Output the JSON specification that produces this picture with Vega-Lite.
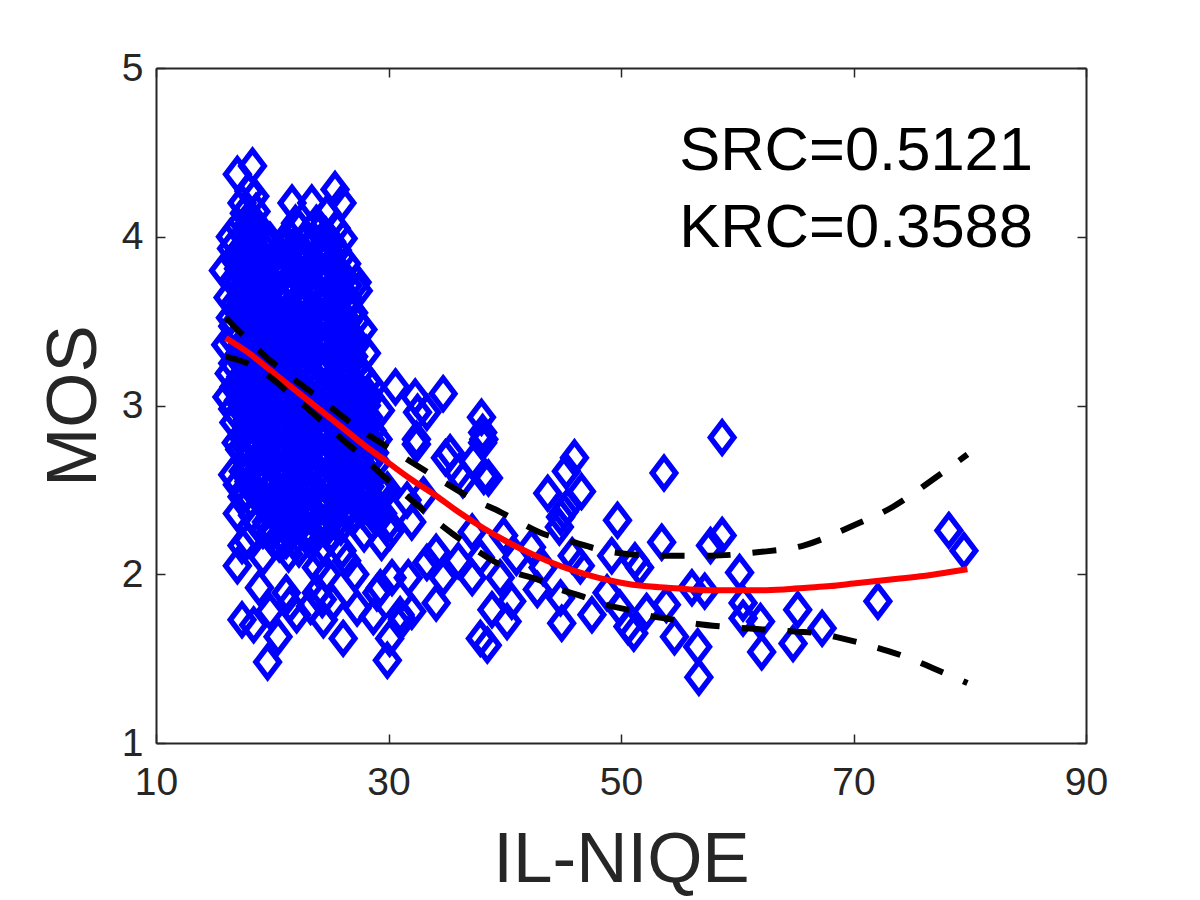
{"$schema":"https://vega.github.io/schema/vega-lite/v6.json",
"width":930,"height":675,
"autosize":"none",
"padding":{"left":156,"top":68,"right":114,"bottom":157},
"background":"white",
"config":{"view":{"stroke":null},"font":"Liberation Sans"},
"datasets":{
"fit":[{"x":16,"y":3.4},{"x":18,"y":3.31},{"x":20,"y":3.2},{"x":22,"y":3.09},{"x":24,"y":2.98},{"x":26,"y":2.87},{"x":28,"y":2.76},{"x":30,"y":2.66},{"x":32,"y":2.56},{"x":34,"y":2.47},{"x":36,"y":2.37},{"x":38,"y":2.28},{"x":40,"y":2.2},{"x":42,"y":2.13},{"x":44,"y":2.07},{"x":46,"y":2.02},{"x":48,"y":1.98},{"x":50,"y":1.95},{"x":52,"y":1.93},{"x":54,"y":1.92},{"x":56,"y":1.91},{"x":58,"y":1.905},{"x":60,"y":1.905},{"x":62,"y":1.905},{"x":64,"y":1.91},{"x":66,"y":1.92},{"x":68,"y":1.93},{"x":70,"y":1.945},{"x":72,"y":1.96},{"x":74,"y":1.975},{"x":76,"y":1.99},{"x":78,"y":2.01},{"x":79.8,"y":2.03}],
"upper":[{"x":16,"y":3.52},{"x":19.1,"y":3.31},{"x":23.9,"y":3.05},{"x":27.3,"y":2.87},{"x":30.7,"y":2.72},{"x":34.2,"y":2.57},{"x":37.7,"y":2.43},{"x":39.6,"y":2.37},{"x":41.5,"y":2.3},{"x":43.3,"y":2.24},{"x":45.4,"y":2.2},{"x":49.3,"y":2.13},{"x":53.5,"y":2.11},{"x":57.7,"y":2.11},{"x":61.7,"y":2.13},{"x":65.7,"y":2.17},{"x":69.7,"y":2.28},{"x":73.4,"y":2.4},{"x":76.8,"y":2.56},{"x":79.8,"y":2.71}],
"lower":[{"x":16,"y":3.29},{"x":18.2,"y":3.24},{"x":19.8,"y":3.17},{"x":21.5,"y":3.07},{"x":23,"y":2.985},{"x":24.7,"y":2.88},{"x":26.1,"y":2.795},{"x":27.8,"y":2.695},{"x":29.1,"y":2.61},{"x":30.8,"y":2.51},{"x":32.3,"y":2.42},{"x":34,"y":2.32},{"x":35.5,"y":2.24},{"x":37.3,"y":2.155},{"x":39,"y":2.08},{"x":40.9,"y":2.01},{"x":42.8,"y":1.97},{"x":44.8,"y":1.91},{"x":46.6,"y":1.87},{"x":48.6,"y":1.82},{"x":50.6,"y":1.79},{"x":52.7,"y":1.75},{"x":54.6,"y":1.73},{"x":56.6,"y":1.705},{"x":58.7,"y":1.69},{"x":60.8,"y":1.68},{"x":65,"y":1.66},{"x":67,"y":1.65},{"x":69,"y":1.62},{"x":71,"y":1.585},{"x":73,"y":1.545},{"x":74.9,"y":1.5},{"x":76.8,"y":1.445},{"x":79.8,"y":1.355}],
"labels":[{"x":55,"y":4.396,"label":"SRC=0.5121"},{"x":55,"y":3.94,"label":"KRC=0.3588"}],
"points":[
{"x":58.7,"y":2.81},{"x":53.7,"y":2.6},{"x":46,"y":2.69},{"x":45.3,"y":2.61},{"x":46.6,"y":2.49},{"x":43.7,"y":2.48},{"x":45.1,"y":2.37},{"x":44.8,"y":2.34},{"x":45.4,"y":2.4},{"x":44.7,"y":2.28},{"x":49.7,"y":2.32},{"x":58.7,"y":2.23},{"x":57.7,"y":2.17},{"x":53.5,"y":2.19},{"x":49.2,"y":2.11},{"x":51.2,"y":2.08},{"x":51.6,"y":2.04},{"x":45.8,"y":2.11},{"x":46.5,"y":2.05},{"x":60.2,"y":2.01},{"x":42.3,"y":2.16},{"x":39.9,"y":2.23},{"x":41,"y":2.1},{"x":43.3,"y":2.04},{"x":39.6,"y":1.98},{"x":42.8,"y":1.91},{"x":48.8,"y":1.89},{"x":44.8,"y":1.86},{"x":56.1,"y":1.92},{"x":57.2,"y":1.9},{"x":53.9,"y":1.82},{"x":52.2,"y":1.78},{"x":49.9,"y":1.8},{"x":40.6,"y":1.84},{"x":38.9,"y":1.79},{"x":47.5,"y":1.76},{"x":44.9,"y":1.71},{"x":40.2,"y":1.72},{"x":60.5,"y":1.83},{"x":60.5,"y":1.74},{"x":62,"y":1.72},{"x":50.6,"y":1.69},{"x":51.1,"y":1.65},{"x":54.6,"y":1.63},{"x":56.6,"y":1.57},{"x":62.1,"y":1.54},{"x":56.7,"y":1.39},{"x":38.5,"y":1.58},{"x":37.9,"y":1.62},{"x":65.2,"y":1.79},{"x":67.3,"y":1.68},{"x":64.8,"y":1.59},{"x":72.1,"y":1.84},{"x":78.2,"y":2.26},{"x":79.5,"y":2.14},
{"x":34.7,"y":3.07},{"x":30.6,"y":3.11},{"x":28.6,"y":3.11},{"x":32.3,"y":3.05},{"x":32.5,"y":2.96},{"x":33.3,"y":2.96},{"x":38,"y":2.93},{"x":29.3,"y":2.97},{"x":38.1,"y":2.84},{"x":38.2,"y":2.8},{"x":32.4,"y":2.8},{"x":32.4,"y":2.77},{"x":38.1,"y":2.78},{"x":34.9,"y":2.69},{"x":36,"y":2.6},{"x":37.3,"y":2.67},{"x":38.6,"y":2.57},{"x":38.2,"y":2.58},{"x":35.3,"y":2.72},{"x":36.4,"y":2.56},{"x":33,"y":2.47},{"x":31.6,"y":2.44},{"x":32,"y":2.31},{"x":37.2,"y":2.25},{"x":37.9,"y":2.1},{"x":36,"y":2.08},{"x":37.2,"y":1.98},{"x":34.7,"y":1.98},{"x":33.3,"y":2.07},{"x":34.1,"y":2.13},{"x":31.7,"y":1.98},{"x":30.3,"y":1.98},{"x":34.1,"y":1.83},{"x":29,"y":1.89},{"x":27.3,"y":1.8},{"x":31.2,"y":1.73},{"x":31,"y":1.76},{"x":32,"y":1.78},{"x":28.7,"y":1.75},{"x":26.1,"y":1.62},{"x":30.1,"y":1.62},{"x":29.9,"y":1.49},{"x":24.4,"y":1.73},{"x":19.6,"y":1.48},{"x":20.5,"y":1.63},{"x":18.9,"y":1.92},{"x":17.4,"y":1.73},{"x":18.4,"y":1.7},{"x":19.8,"y":1.78},{"x":21.2,"y":1.89},{"x":21.5,"y":1.82},{"x":22.1,"y":1.76},{"x":17,"y":2.05},{"x":17.4,"y":2.17},{"x":19.2,"y":2.1},{"x":27.1,"y":2},{"x":23.8,"y":1.89},{"x":23.3,"y":1.81},{"x":25.2,"y":1.83},{"x":24.3,"y":1.85},{"x":23.8,"y":2.04},{"x":24.7,"y":2},{"x":29.4,"y":2.19},{"x":30.1,"y":2.25},{"x":27.9,"y":2.24},{"x":26.4,"y":2.08},{"x":26,"y":2.14},{"x":29.3,"y":1.92},
{"x":16,"y":3.36},{"x":16.1,"y":3.05},{"x":16.3,"y":3.19},{"x":16.4,"y":3.52},{"x":16.2,"y":3.64},{"x":15.8,"y":3.8},{"x":16.5,"y":3.93},{"x":16.4,"y":4},{"x":16.6,"y":2.59},{"x":16.9,"y":2.78},{"x":16.7,"y":2.9},
{"x":17,"y":2.36},{"x":17,"y":2.53},{"x":17.2,"y":2.74},{"x":17.1,"y":3.03},{"x":17.3,"y":3.17},{"x":17,"y":3.29},{"x":17.2,"y":3.42},{"x":17,"y":3.56},{"x":17.3,"y":3.69},{"x":17.1,"y":3.81},{"x":17.2,"y":3.92},{"x":17.1,"y":4.06},{"x":17.4,"y":4.2},{"x":17,"y":4.37},
{"x":17.9,"y":2.2},{"x":17.8,"y":2.41},{"x":18,"y":2.55},{"x":17.7,"y":2.68},{"x":18.1,"y":2.82},{"x":17.9,"y":2.95},{"x":18,"y":3.08},{"x":17.8,"y":3.21},{"x":18.1,"y":3.34},{"x":17.9,"y":3.47},{"x":18,"y":3.6},{"x":17.8,"y":3.73},{"x":18.1,"y":3.86},{"x":17.9,"y":3.99},{"x":18.1,"y":4.12},{"x":18,"y":4.27},{"x":18.3,"y":4.42},
{"x":18.7,"y":2.3},{"x":18.9,"y":2.47},{"x":18.8,"y":2.61},{"x":18.7,"y":2.75},{"x":19,"y":2.88},{"x":18.7,"y":3.01},{"x":18.9,"y":3.14},{"x":18.8,"y":3.27},{"x":18.7,"y":3.4},{"x":19,"y":3.54},{"x":18.8,"y":3.67},{"x":18.9,"y":3.8},{"x":18.7,"y":3.93},{"x":18.9,"y":4.05},{"x":18.6,"y":4.15},
{"x":19.7,"y":2.24},{"x":19.6,"y":2.38},{"x":19.8,"y":2.52},{"x":19.5,"y":2.66},{"x":19.7,"y":2.8},{"x":19.6,"y":2.93},{"x":19.8,"y":3.07},{"x":19.5,"y":3.2},{"x":19.7,"y":3.33},{"x":19.6,"y":3.46},{"x":19.8,"y":3.58},{"x":19.5,"y":3.7},{"x":19.7,"y":3.84},{"x":19.8,"y":3.98},
{"x":20.6,"y":2.18},{"x":20.5,"y":2.32},{"x":20.7,"y":2.46},{"x":20.4,"y":2.6},{"x":20.6,"y":2.73},{"x":20.5,"y":2.87},{"x":20.7,"y":3},{"x":20.4,"y":3.13},{"x":20.6,"y":3.26},{"x":20.5,"y":3.39},{"x":20.7,"y":3.64},{"x":20.5,"y":3.76},{"x":20.6,"y":3.86},
{"x":21.4,"y":2.12},{"x":21.5,"y":2.27},{"x":21.3,"y":2.41},{"x":21.6,"y":2.55},{"x":21.4,"y":2.68},{"x":21.5,"y":2.82},{"x":21.3,"y":2.95},{"x":21.6,"y":3.08},{"x":21.4,"y":3.22},{"x":21.5,"y":3.35},{"x":21.3,"y":3.48},{"x":21.6,"y":3.58},{"x":21.4,"y":3.74},{"x":21.5,"y":3.87},{"x":21.4,"y":4.01},{"x":21.7,"y":4.2},
{"x":22.3,"y":2.15},{"x":22.4,"y":2.3},{"x":22.2,"y":2.44},{"x":22.5,"y":2.58},{"x":22.3,"y":2.71},{"x":22.4,"y":2.85},{"x":22.2,"y":2.98},{"x":22.5,"y":3.11},{"x":22.3,"y":3.25},{"x":22.4,"y":3.38},{"x":22.2,"y":3.51},{"x":22.5,"y":3.65},{"x":22.3,"y":3.78},{"x":22.4,"y":3.9},{"x":22.3,"y":4.05},
{"x":23.2,"y":2.2},{"x":23.3,"y":2.34},{"x":23.1,"y":2.48},{"x":23.4,"y":2.62},{"x":23.2,"y":2.75},{"x":23.3,"y":2.89},{"x":23.1,"y":3.02},{"x":23.4,"y":3.15},{"x":23.2,"y":3.29},{"x":23.3,"y":3.42},{"x":23.1,"y":3.55},{"x":23.4,"y":3.69},{"x":23.2,"y":3.82},{"x":23.3,"y":3.95},{"x":23.4,"y":4.2},
{"x":24.1,"y":2.14},{"x":24.2,"y":2.28},{"x":24,"y":2.42},{"x":24.3,"y":2.56},{"x":24.1,"y":2.69},{"x":24.2,"y":2.83},{"x":24,"y":2.96},{"x":24.3,"y":3.09},{"x":24.1,"y":3.23},{"x":24.2,"y":3.36},{"x":24,"y":3.49},{"x":24.3,"y":3.63},{"x":24.1,"y":3.76},{"x":24.2,"y":3.89},{"x":24,"y":4.03},{"x":24.7,"y":4.14},
{"x":25,"y":2.22},{"x":25.1,"y":2.36},{"x":24.9,"y":2.5},{"x":25.2,"y":2.64},{"x":25,"y":2.77},{"x":25.1,"y":2.91},{"x":24.9,"y":3.04},{"x":25.2,"y":3.17},{"x":25,"y":3.31},{"x":25.1,"y":3.44},{"x":24.9,"y":3.57},{"x":25.2,"y":3.71},{"x":25,"y":3.84},{"x":25.1,"y":3.97},{"x":25.4,"y":4.28},
{"x":25.9,"y":2.28},{"x":26,"y":2.42},{"x":25.8,"y":2.56},{"x":26.1,"y":2.7},{"x":25.9,"y":2.83},{"x":26,"y":2.97},{"x":25.8,"y":3.1},{"x":26.1,"y":3.23},{"x":25.9,"y":3.37},{"x":26,"y":3.5},{"x":25.8,"y":3.63},{"x":26.1,"y":3.77},{"x":25.9,"y":3.88},{"x":26.1,"y":3.99},{"x":26,"y":4.2},
{"x":26.8,"y":2.34},{"x":26.9,"y":2.48},{"x":26.7,"y":2.62},{"x":27,"y":2.76},{"x":26.8,"y":2.89},{"x":26.9,"y":3.03},{"x":26.7,"y":3.16},{"x":27,"y":3.29},{"x":26.8,"y":3.42},{"x":27,"y":3.55},{"x":27.3,"y":3.73},{"x":27.4,"y":3.68},
{"x":27.7,"y":2.38},{"x":27.8,"y":2.52},{"x":27.6,"y":2.66},{"x":27.9,"y":2.8},{"x":27.7,"y":2.93},{"x":27.8,"y":3.07},{"x":27.6,"y":3.2},{"x":27.8,"y":3.45},{"x":28.1,"y":3.31},
{"x":28.6,"y":2.3},{"x":28.7,"y":2.44},{"x":28.5,"y":2.58},{"x":28.8,"y":2.72},{"x":28.6,"y":2.85},
{"x":29.4,"y":2.5},{"x":29.5,"y":2.36},{"x":29.9,"y":2.5},{"x":30,"y":2.3},
{"x":16.6,"y":2.98},{"x":16.7,"y":3.11},{"x":16.6,"y":3.25},{"x":16.7,"y":3.38},{"x":16.6,"y":3.47},{"x":16.7,"y":3.6},{"x":16.6,"y":3.74},{"x":16.7,"y":3.87},
{"x":17.4,"y":2.46},{"x":17.5,"y":2.61},{"x":17.4,"y":2.82},{"x":17.5,"y":2.96},{"x":17.4,"y":3.1},{"x":17.5,"y":3.24},{"x":17.4,"y":3.36},{"x":17.5,"y":3.5},{"x":17.4,"y":3.62},{"x":17.5,"y":3.76},{"x":17.4,"y":3.88},{"x":17.5,"y":4.01},{"x":17.6,"y":4.14},
{"x":18.3,"y":2.35},{"x":18.4,"y":2.49},{"x":18.3,"y":2.63},{"x":18.4,"y":2.77},{"x":18.3,"y":2.9},{"x":18.4,"y":3.03},{"x":18.3,"y":3.16},{"x":18.4,"y":3.29},{"x":18.3,"y":3.42},{"x":18.4,"y":3.55},{"x":18.3,"y":3.68},{"x":18.4,"y":3.8},{"x":18.3,"y":3.93},{"x":18.4,"y":4.06},{"x":18.5,"y":4.24},
{"x":19.2,"y":2.26},{"x":19.3,"y":2.41},{"x":19.2,"y":2.55},{"x":19.3,"y":2.69},{"x":19.2,"y":2.82},{"x":19.3,"y":2.96},{"x":19.2,"y":3.09},{"x":19.3,"y":3.23},{"x":19.2,"y":3.36},{"x":19.3,"y":3.49},{"x":19.2,"y":3.62},{"x":19.3,"y":3.75},{"x":19.2,"y":3.88},{"x":19.3,"y":3.98},
{"x":20.1,"y":2.25},{"x":20.2,"y":2.39},{"x":20.1,"y":2.53},{"x":20.2,"y":2.67},{"x":20.1,"y":2.8},{"x":20.2,"y":2.94},{"x":20.1,"y":3.07},{"x":20.2,"y":3.2},{"x":20.1,"y":3.33},{"x":20.2,"y":3.46},{"x":20.1,"y":3.7},{"x":20.2,"y":3.82},
{"x":21,"y":2.2},{"x":21,"y":2.34},{"x":21.1,"y":2.48},{"x":21,"y":2.62},{"x":21.1,"y":2.75},{"x":21,"y":2.89},{"x":21.1,"y":3.02},{"x":21,"y":3.15},{"x":21.1,"y":3.28},{"x":21,"y":3.41},{"x":21.1,"y":3.55},{"x":21,"y":3.7},{"x":21.1,"y":3.82},{"x":21,"y":3.94},
{"x":21.9,"y":2.2},{"x":21.9,"y":2.34},{"x":22,"y":2.48},{"x":21.9,"y":2.62},{"x":22,"y":2.75},{"x":21.9,"y":2.89},{"x":22,"y":3.02},{"x":21.9,"y":3.15},{"x":22,"y":3.28},{"x":21.9,"y":3.42},{"x":22,"y":3.55},{"x":21.9,"y":3.69},{"x":22,"y":3.82},{"x":21.9,"y":3.95},{"x":22,"y":4.08},
{"x":22.8,"y":2.24},{"x":22.8,"y":2.38},{"x":22.9,"y":2.52},{"x":22.8,"y":2.66},{"x":22.9,"y":2.79},{"x":22.8,"y":2.93},{"x":22.9,"y":3.06},{"x":22.8,"y":3.19},{"x":22.9,"y":3.33},{"x":22.8,"y":3.46},{"x":22.9,"y":3.59},{"x":22.8,"y":3.73},{"x":22.9,"y":3.86},{"x":22.8,"y":3.99},
{"x":23.7,"y":2.22},{"x":23.7,"y":2.36},{"x":23.8,"y":2.5},{"x":23.7,"y":2.64},{"x":23.8,"y":2.77},{"x":23.7,"y":2.91},{"x":23.8,"y":3.04},{"x":23.7,"y":3.17},{"x":23.8,"y":3.31},{"x":23.7,"y":3.44},{"x":23.8,"y":3.57},{"x":23.7,"y":3.71},{"x":23.8,"y":3.84},{"x":23.7,"y":3.97},{"x":23.8,"y":4.08},
{"x":24.6,"y":2.26},{"x":24.6,"y":2.4},{"x":24.7,"y":2.54},{"x":24.6,"y":2.68},{"x":24.7,"y":2.81},{"x":24.6,"y":2.95},{"x":24.7,"y":3.08},{"x":24.6,"y":3.21},{"x":24.7,"y":3.35},{"x":24.6,"y":3.48},{"x":24.7,"y":3.61},{"x":24.6,"y":3.75},{"x":24.7,"y":3.88},{"x":24.6,"y":4.01},
{"x":25.5,"y":2.3},{"x":25.5,"y":2.44},{"x":25.6,"y":2.58},{"x":25.5,"y":2.72},{"x":25.6,"y":2.85},{"x":25.5,"y":2.99},{"x":25.6,"y":3.12},{"x":25.5,"y":3.25},{"x":25.6,"y":3.39},{"x":25.5,"y":3.52},{"x":25.6,"y":3.65},{"x":25.5,"y":3.79},{"x":25.6,"y":3.92},{"x":25.5,"y":4.05},
{"x":26.4,"y":2.36},{"x":26.4,"y":2.5},{"x":26.5,"y":2.64},{"x":26.4,"y":2.78},{"x":26.5,"y":2.91},{"x":26.4,"y":3.05},{"x":26.5,"y":3.18},{"x":26.4,"y":3.31},{"x":26.5,"y":3.45},{"x":26.4,"y":3.58},{"x":26.5,"y":3.71},{"x":26.4,"y":3.84},
{"x":27.2,"y":2.42},{"x":27.3,"y":2.56},{"x":27.2,"y":2.7},{"x":27.3,"y":2.84},{"x":27.2,"y":2.97},{"x":27.3,"y":3.11},{"x":27.2,"y":3.24},{"x":27.3,"y":3.37},{"x":27.2,"y":3.5},
{"x":28.1,"y":2.46},{"x":28.2,"y":2.6},{"x":28.1,"y":2.74},{"x":28.2,"y":2.87},{"x":28.1,"y":3},{"x":28.2,"y":3.14},
{"x":29,"y":2.36},{"x":29.1,"y":2.52},{"x":29,"y":2.66},{"x":29.1,"y":2.8},
{"x":17.8,"y":2.48},{"x":17.9,"y":2.62},{"x":17.8,"y":2.75},{"x":17.9,"y":2.89},{"x":17.8,"y":3.02},{"x":17.9,"y":3.15},{"x":17.8,"y":3.28},{"x":17.9,"y":3.41},{"x":17.8,"y":3.54},{"x":17.9,"y":3.67},{"x":17.8,"y":3.8},{"x":17.9,"y":3.93},{"x":17.8,"y":4.06},
{"x":19.5,"y":2.31},{"x":19.4,"y":2.45},{"x":19.5,"y":2.59},{"x":19.4,"y":2.73},{"x":19.5,"y":2.87},{"x":19.4,"y":3},{"x":19.5,"y":3.13},{"x":19.4,"y":3.27},{"x":19.5,"y":3.4},{"x":19.4,"y":3.52},{"x":19.5,"y":3.65},{"x":19.4,"y":3.78},{"x":19.5,"y":3.91},
{"x":21.2,"y":2.2},{"x":21.3,"y":2.34},{"x":21.2,"y":2.48},{"x":21.3,"y":2.62},{"x":21.2,"y":2.75},{"x":21.3,"y":2.88},{"x":21.2,"y":3.02},{"x":21.3,"y":3.15},{"x":21.2,"y":3.29},{"x":21.3,"y":3.42},{"x":21.2,"y":3.66},{"x":21.3,"y":3.8},{"x":21.2,"y":3.94},
{"x":23,"y":2.27},{"x":23,"y":2.41},{"x":22.9,"y":2.55},{"x":23,"y":2.69},{"x":22.9,"y":2.82},{"x":23,"y":2.96},{"x":22.9,"y":3.09},{"x":23,"y":3.22},{"x":22.9,"y":3.36},{"x":23,"y":3.49},{"x":22.9,"y":3.62},{"x":23,"y":3.76},{"x":22.9,"y":3.89},
{"x":24.8,"y":2.29},{"x":24.8,"y":2.43},{"x":24.7,"y":2.57},{"x":24.8,"y":2.71},{"x":24.7,"y":2.84},{"x":24.8,"y":2.98},{"x":24.7,"y":3.11},{"x":24.8,"y":3.24},{"x":24.7,"y":3.38},{"x":24.8,"y":3.51},{"x":24.7,"y":3.64},{"x":24.8,"y":3.78},{"x":24.7,"y":3.91},
{"x":26.6,"y":2.41},{"x":26.6,"y":2.55},{"x":26.5,"y":2.69},{"x":26.6,"y":2.83},{"x":26.5,"y":2.96},{"x":26.6,"y":3.1},{"x":26.5,"y":3.23},{"x":26.6,"y":3.36},{"x":26.5,"y":3.5},{"x":26.6,"y":3.63},
{"x":28.4,"y":2.38},{"x":28.4,"y":2.52},{"x":28.3,"y":2.66},{"x":28.4,"y":2.8},{"x":28.3,"y":2.93},{"x":28.4,"y":3.05}
]},
"layer":[
{"data":{"name":"points"},
"mark":{"type":"point","shape":"M0,-1L0.76,0L0,1L-0.76,0Z","filled":false,"stroke":"#0000ff","strokeWidth":5.5,"size":950,"opacity":1},
"encoding":{
"x":{"field":"x","type":"quantitative","scale":{"domain":[10,90],"nice":false,"zero":false},
"axis":{"orient":"bottom","values":[10,30,50,70,90],"grid":false,"tickSize":-9,"tickColor":"#262626","tickWidth":1.5,"domainColor":"#262626","domainWidth":2,"labelColor":"#262626","labelFontSize":39,"labelPadding":29,"labelFlush":false,"title":"IL-NIQE","titleFontSize":71,"titleFontWeight":"normal","titleColor":"#262626","titlePadding":23}},
"y":{"field":"y","type":"quantitative","scale":{"domain":[1,5],"nice":false,"zero":false},
"axis":{"orient":"left","values":[1,2,3,4,5],"grid":false,"tickSize":-9,"tickColor":"#262626","tickWidth":1.5,"domainColor":"#262626","domainWidth":2,"labelColor":"#262626","labelFontSize":39,"labelPadding":22,"title":"MOS","titleFontSize":71,"titleFontWeight":"normal","titleColor":"#262626","titlePadding":11}}
}},
{"data":{"name":"fit"},"mark":{"type":"line","color":"#ff0000","strokeWidth":6,"interpolate":"monotone"},
"encoding":{"x":{"field":"x","type":"quantitative","axis":null},"y":{"field":"y","type":"quantitative","axis":null}}},
{"data":{"name":"upper"},"mark":{"type":"line","color":"#000000","strokeWidth":6,"strokeDash":[24,22],"interpolate":"monotone"},
"encoding":{"x":{"field":"x","type":"quantitative","axis":null},"y":{"field":"y","type":"quantitative","axis":null}}},
{"data":{"name":"lower"},"mark":{"type":"line","color":"#000000","strokeWidth":6,"strokeDash":[24,22],"interpolate":"monotone"},
"encoding":{"x":{"field":"x","type":"quantitative","axis":null},"y":{"field":"y","type":"quantitative","axis":null}}},
{"data":{"name":"labels"},"mark":{"type":"text","align":"left","baseline":"alphabetic","fontSize":61.5,"color":"#000000"},
"encoding":{
"x":{"field":"x","type":"quantitative","axis":{"orient":"top","values":[10,30,50,70,90],"grid":false,"labels":false,"title":null,"tickSize":-9,"tickColor":"#262626","tickWidth":1.5,"domainColor":"#262626","domainWidth":2}},
"y":{"field":"y","type":"quantitative","axis":{"orient":"right","values":[1,2,3,4,5],"grid":false,"labels":false,"title":null,"tickSize":-9,"tickColor":"#262626","tickWidth":1.5,"domainColor":"#262626","domainWidth":2}},
"text":{"field":"label"}}}
],
"resolve":{"axis":{"x":"independent","y":"independent"}}
}
